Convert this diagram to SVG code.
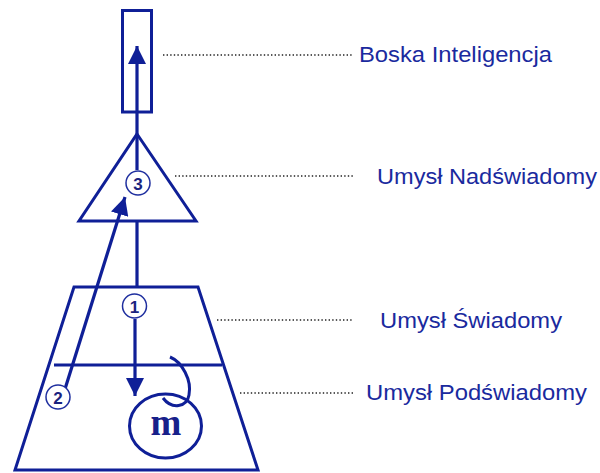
<svg xmlns="http://www.w3.org/2000/svg" width="600" height="473" viewBox="0 0 600 473">
<style>
.s{fill:none;stroke:#0f1f97;stroke-width:3;stroke-linejoin:miter}
.ln{fill:none;stroke:#0f1f97;stroke-width:3.2}
.lead{fill:none;stroke:#222;stroke-width:1.3;stroke-dasharray:1.4 2.2}
.lbl{font-family:"Liberation Sans",Arial,sans-serif;font-size:22.5px;fill:#1a2a9e}
.nc{fill:#fff;stroke:#1f2f9f;stroke-width:1.5}
.nt{font-family:"Liberation Sans",Arial,sans-serif;font-size:17px;font-weight:bold;fill:#1a237e;text-anchor:middle}
</style>
<defs>
<marker id="ah" viewBox="0 0 20 18" refX="18" refY="9" markerWidth="20" markerHeight="18" markerUnits="userSpaceOnUse" orient="auto">
<path d="M0,0 L18,9 L0,18 Z" fill="#0f1f97"/>
</marker>
</defs>
<g id="boska"><rect class="s" x="122.5" y="10.5" width="29" height="101.5"/></g>
<g id="nadswiadomy"><path class="s" d="M137,134 L196,221 L79,221 Z"/></g>
<g id="swiadomy"><path class="s" d="M74,287 L198,287 L258,470 L15,470 Z"/><line class="s" x1="54" y1="365" x2="222" y2="365"/></g>
<g id="m"><ellipse class="s" cx="165.5" cy="426" rx="36" ry="32"/><path class="s" stroke-width="2.6" d="M170,357 C182,362 192,380 189,395 C187,407 172,410 163,398"/><text x="166" y="435" text-anchor="middle" font-family="'Liberation Serif','Times New Roman',serif" font-weight="bold" font-size="37" fill="#17208a">m</text></g>
<g id="connectors">
<line class="ln" x1="137" y1="170" x2="137" y2="46" marker-end="url(#ah)"/>
<line class="ln" x1="137" y1="221" x2="137" y2="287"/>
<line class="ln" x1="135" y1="319" x2="135" y2="396" marker-end="url(#ah)"/>
<line class="ln" x1="65" y1="389" x2="125" y2="197" marker-end="url(#ah)"/>
</g>
<g id="n1"><circle class="nc" cx="134.5" cy="306" r="12"/><text class="nt" x="134.5" y="312.5">1</text></g>
<g id="n2"><circle class="nc" cx="58" cy="397" r="12"/><text class="nt" x="58" y="403.5">2</text></g>
<g id="n3"><circle class="nc" cx="138" cy="183" r="12"/><text class="nt" x="138" y="189.5">3</text></g>
<g id="leaders">
<line class="lead" x1="163" y1="55" x2="353" y2="55"/>
<line class="lead" x1="175" y1="176" x2="353" y2="176"/>
<line class="lead" x1="217" y1="320" x2="353" y2="320"/>
<line class="lead" x1="240" y1="393" x2="353" y2="393"/>
</g>
<g id="labels">
<text class="lbl" x="359" y="62" textLength="193" lengthAdjust="spacingAndGlyphs">Boska Inteligencja</text>
<text class="lbl" x="377" y="184" textLength="220" lengthAdjust="spacingAndGlyphs">Umysł Nadświadomy</text>
<text class="lbl" x="380" y="328" textLength="182" lengthAdjust="spacingAndGlyphs">Umysł Świadomy</text>
<text class="lbl" x="366" y="400" textLength="221" lengthAdjust="spacingAndGlyphs">Umysł Podświadomy</text>
</g>
</svg>
